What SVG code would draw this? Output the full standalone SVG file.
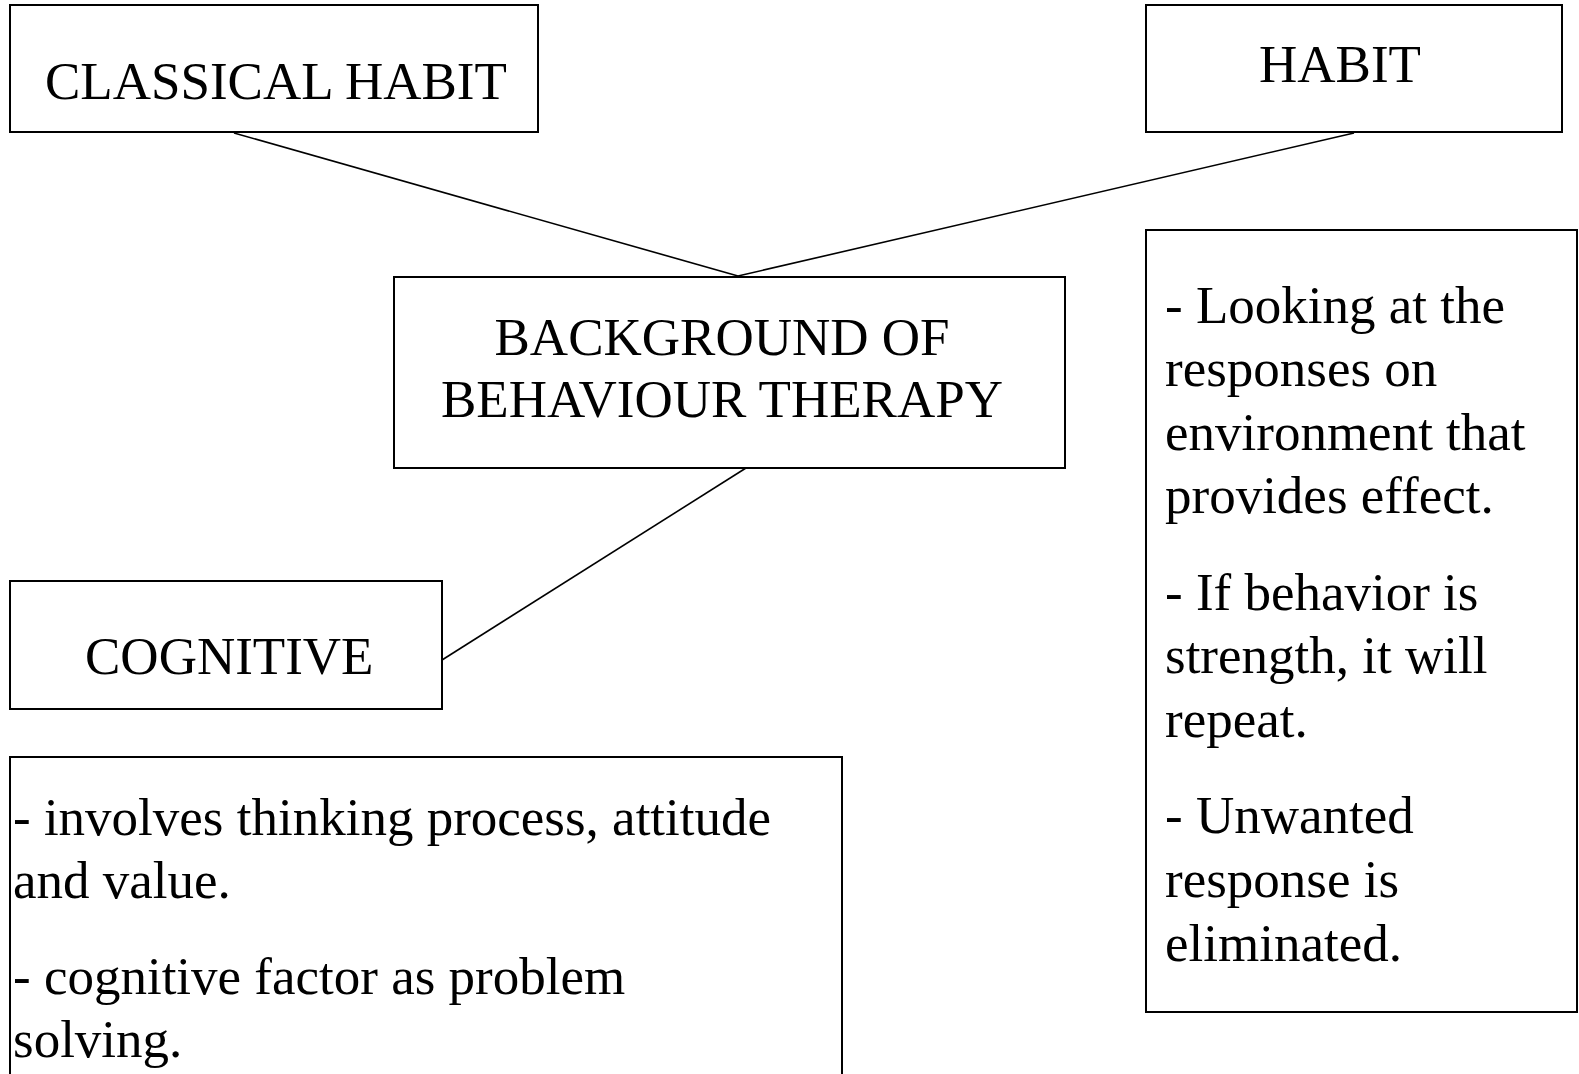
<svg xmlns="http://www.w3.org/2000/svg" width="1579" height="1074" viewBox="0 0 1579 1074">
<style>
.box{fill:#fff;stroke:#000;stroke-width:2}
.t{font-family:"Liberation Serif","Times New Roman",serif;font-size:53px;fill:#000}
.c{text-anchor:middle}
.ln{stroke:#000;stroke-width:1.6;fill:none}
</style>
<rect width="1579" height="1074" fill="#fff"/>
<g id="connectors">
<line class="ln" x1="234" y1="133" x2="738" y2="276"/>
<line class="ln" x1="1354" y1="133" x2="738" y2="276"/>
<line class="ln" x1="746" y1="468" x2="442" y2="660"/>
</g>
<g id="classical-habit">
<rect class="box" x="10" y="5" width="528" height="127"/>
<text class="t" x="45" y="99">CLASSICAL HABIT</text>
</g>
<g id="habit">
<rect class="box" x="1146" y="5" width="416" height="127"/>
<text class="t" x="1259" y="82">HABIT</text>
</g>
<g id="background">
<rect class="box" x="394" y="277" width="671" height="191"/>
<text class="t c" x="722" y="355">BACKGROUND OF</text>
<text class="t c" x="722" y="417">BEHAVIOUR THERAPY</text>
</g>
<g id="cognitive">
<rect class="box" x="10" y="581" width="432" height="128"/>
<text class="t" x="85" y="674">COGNITIVE</text>
</g>
<g id="cognitive-notes">
<rect class="box" x="10" y="757" width="832" height="330"/>
<text class="t" x="13" y="835">- involves thinking process, attitude</text>
<text class="t" x="13" y="898">and value.</text>
<text class="t" x="13" y="994">- cognitive factor as problem</text>
<text class="t" x="13" y="1057">solving.</text>
</g>
<g id="habit-notes">
<rect class="box" x="1146" y="230" width="431" height="782"/>
<text class="t" x="1165" y="323">- Looking at the</text>
<text class="t" x="1165" y="386">responses on</text>
<text class="t" x="1165" y="450">environment that</text>
<text class="t" x="1165" y="513">provides effect.</text>
<text class="t" x="1165" y="610">- If behavior is</text>
<text class="t" x="1165" y="673">strength, it will</text>
<text class="t" x="1165" y="737">repeat.</text>
<text class="t" x="1165" y="833">- Unwanted</text>
<text class="t" x="1165" y="897">response is</text>
<text class="t" x="1165" y="961">eliminated.</text>
</g>
</svg>
